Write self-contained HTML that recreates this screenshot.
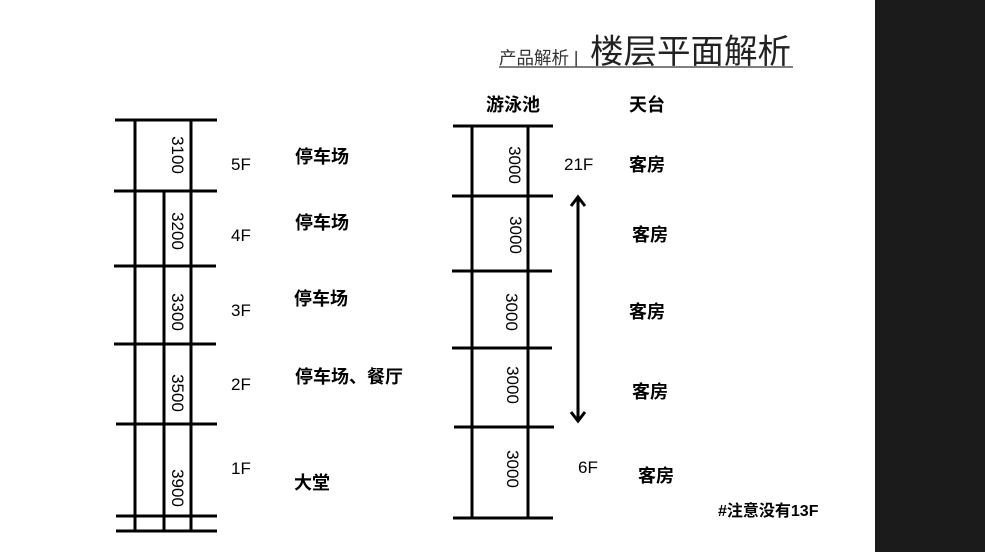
<!DOCTYPE html>
<html><head><meta charset="utf-8"><style>
html,body{margin:0;padding:0;background:#fff;}
svg{display:block;}
text{font-family:"Liberation Sans","Noto Sans CJK SC",sans-serif;}
.b{font-weight:bold;font-size:18px;fill:#000;}
.n{font-size:17px;fill:#000;}
</style></head><body>
<svg width="985" height="552" viewBox="0 0 985 552" xmlns="http://www.w3.org/2000/svg">
<rect x="875" y="0" width="110" height="552" fill="#1b1b1b"/>
<!-- title -->
<text x="499" y="64" font-size="17.5" fill="#333">产品解析 |</text>
<text x="590" y="63" font-size="33.5" fill="#222">楼层平面解析</text>
<line x1="499" y1="67" x2="793" y2="67" stroke="#555" stroke-width="1.5"/>
<!-- left building -->
<g stroke="#000" stroke-width="3">
<line x1="115" y1="120" x2="217" y2="120"/>
<line x1="114" y1="191" x2="217" y2="191"/>
<line x1="114" y1="266" x2="216" y2="266"/>
<line x1="114" y1="344" x2="216" y2="344"/>
<line x1="116" y1="424" x2="217" y2="424"/>
<line x1="116" y1="516" x2="217" y2="516"/>
<line x1="116" y1="531" x2="217" y2="531"/>
<line x1="135" y1="120" x2="135" y2="531"/>
<line x1="191" y1="120" x2="191" y2="531"/>
<line x1="164" y1="191" x2="164" y2="531"/>
</g>
<g class="n" text-anchor="middle">
<text transform="translate(172,155) rotate(90)">3100</text>
<text transform="translate(172,231) rotate(90)">3200</text>
<text transform="translate(172,312) rotate(90)">3300</text>
<text transform="translate(172,393) rotate(90)">3500</text>
<text transform="translate(172,488) rotate(90)">3900</text>
</g>
<g class="n">
<text x="231" y="170">5F</text>
<text x="231" y="241">4F</text>
<text x="231" y="316">3F</text>
<text x="231" y="390">2F</text>
<text x="231" y="474">1F</text>
</g>
<g class="b">
<text x="295" y="163">停车场</text>
<text x="295" y="229">停车场</text>
<text x="294" y="305">停车场</text>
<text x="295" y="383">停车场、餐厅</text>
<text x="294" y="489">大堂</text>
</g>
<!-- right building -->
<g stroke="#000" stroke-width="3">
<line x1="453" y1="126" x2="553" y2="126"/>
<line x1="452" y1="196" x2="553" y2="196"/>
<line x1="452" y1="271" x2="552" y2="271"/>
<line x1="452" y1="348" x2="552" y2="348"/>
<line x1="454" y1="427" x2="554" y2="427"/>
<line x1="453" y1="518" x2="553" y2="518"/>
<line x1="472" y1="126" x2="472" y2="518"/>
<line x1="528" y1="126" x2="528" y2="518"/>
<line x1="578" y1="198" x2="578" y2="420"/>
</g>
<g fill="none" stroke="#000" stroke-width="3">
<polyline points="571,206 578,197 585,206"/>
<polyline points="571,412 578,421 585,412"/>
</g>
<g class="n" text-anchor="middle">
<text transform="translate(509,165) rotate(90)">3000</text>
<text transform="translate(510,235) rotate(90)">3000</text>
<text transform="translate(506,312) rotate(90)">3000</text>
<text transform="translate(507,385) rotate(90)">3000</text>
<text transform="translate(507,469) rotate(90)">3000</text>
</g>
<g class="n">
<text x="564" y="170">21F</text>
<text x="578" y="473">6F</text>
</g>
<g class="b">
<text x="486" y="111">游泳池</text>
<text x="629" y="111">天台</text>
<text x="629" y="171">客房</text>
<text x="632" y="241">客房</text>
<text x="629" y="318">客房</text>
<text x="632" y="398">客房</text>
<text x="638" y="482">客房</text>
<text x="718" y="516" font-size="16">#注意没有13F</text>
</g>
</svg>
</body></html>
